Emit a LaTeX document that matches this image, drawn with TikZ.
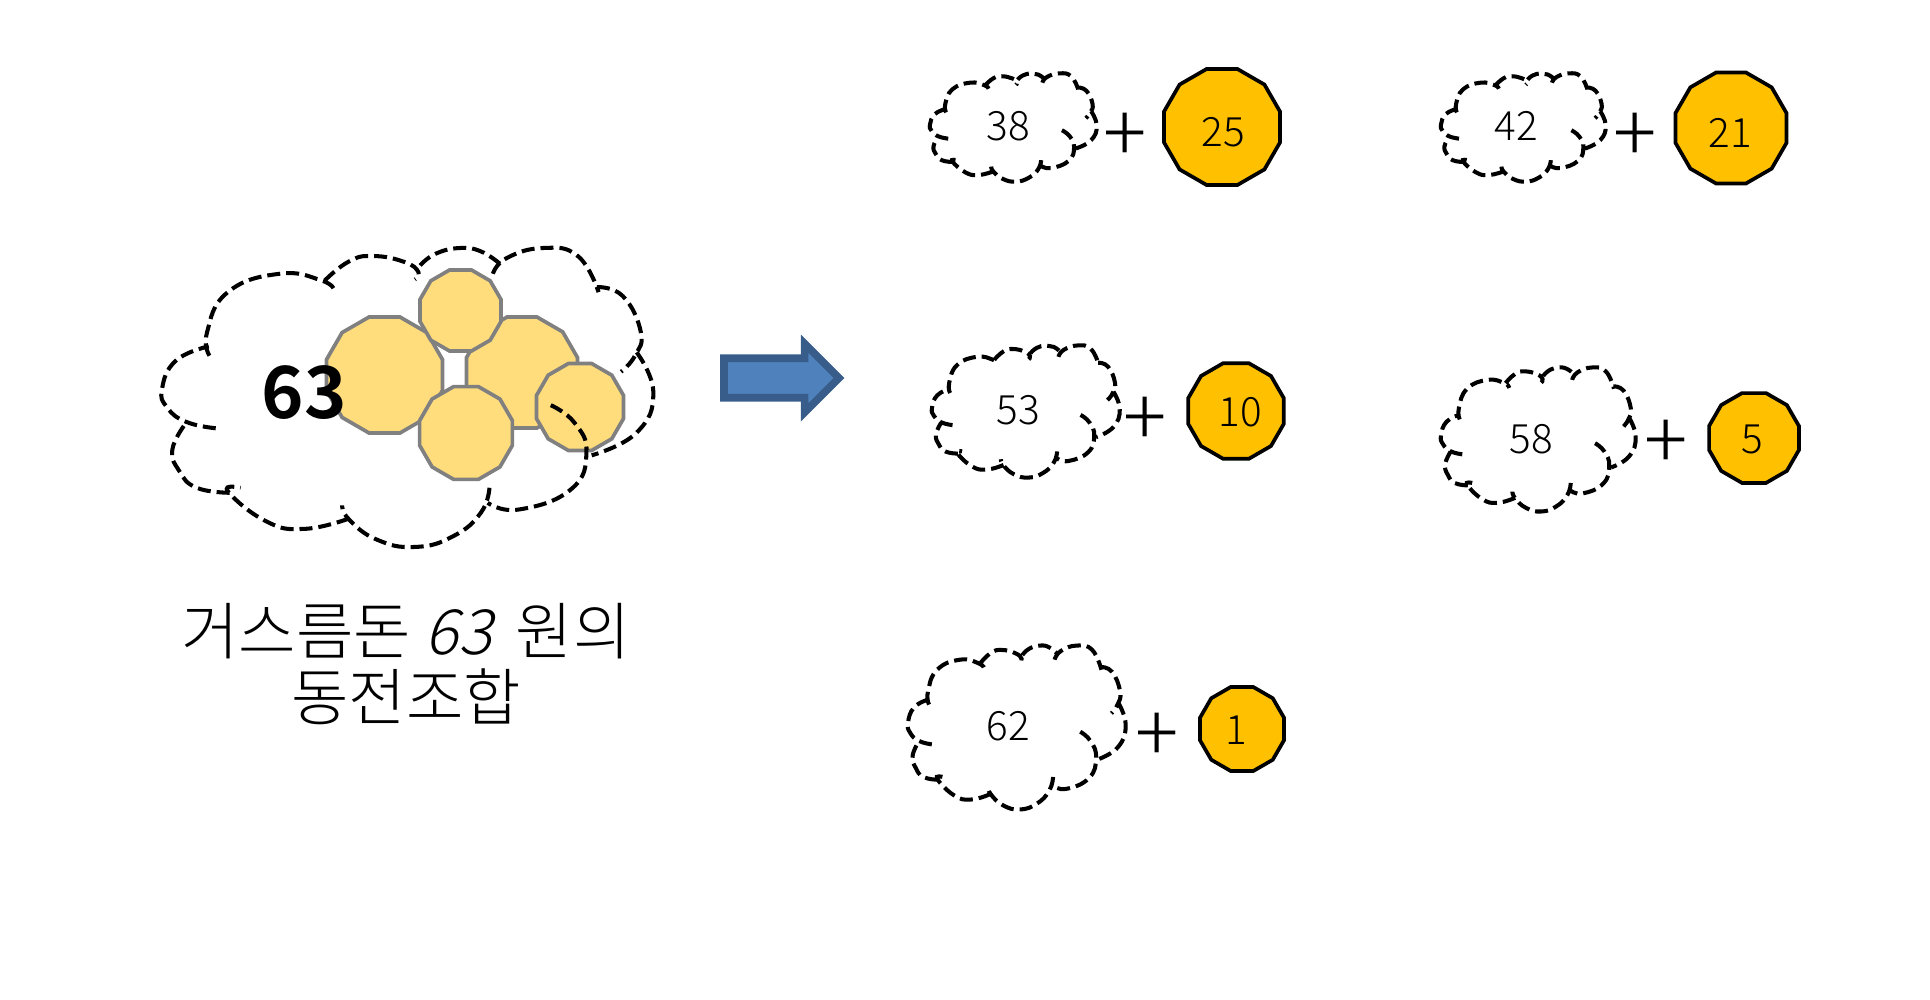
\documentclass[tikz,border=0pt]{standalone}
\usepackage{fontspec}
\usepackage{xcolor}
\usetikzlibrary{shapes.geometric, shapes.arrows}
\IfFontExistsTF{Noto Sans CJK KR Light}
  {\newfontfamily\krlight[AutoFakeSlant=0.25]{Noto Sans CJK KR Light}}
  {\newfontfamily\krlight[AutoFakeSlant=0.25]{Noto Sans CJK KR}}
\newfontfamily\krbold{Noto Sans CJK KR Bold}
\definecolor{coinorange}{HTML}{FFC000}
\definecolor{coinpale}{HTML}{FFDC7C}
\definecolor{coingrey}{HTML}{808080}
\definecolor{arrowfill}{HTML}{4F81BD}
\definecolor{arrowedge}{HTML}{385D8A}

\tikzset{
  cloudline/.style={black, line width=2.3pt, dash pattern=on 7.4pt off 3.4pt},
  cloudlobes/.pic={
    \draw[cloudline, shift={(-70,-85)}, smooth, tension=.8]
      plot coordinates {(225,627) (140,608) (85,565) (70,510) (110,425) (205,382)}
      plot coordinates {(207,410) (200,340) (260,220) (410,165) (530,185) (568,215)}
      plot coordinates {(540,185) (610,128) (680,112) (770,130) (810,160) (800,182)}
      plot coordinates {(815,140) (860,105) (930,88) (990,98) (1045,135)}
      plot coordinates {(1025,165) (1065,118) (1170,88) (1270,112) (1330,220)}
      plot coordinates {(1325,205) (1400,232) (1452,340) (1435,410) (1395,458)}
      plot coordinates {(1440,400) (1488,520) (1440,640) (1310,708)}
      plot coordinates {(1192,558) (1260,610) (1295,700) (1250,810) (1100,870) (1010,850)}
      plot coordinates {(1015,805) (990,880) (910,950) (800,982) (690,960) (610,900) (590,858)}
      plot coordinates {(610,897) (480,928) (370,905) (260,815) (297,805)}
      plot coordinates {(265,820) (170,805) (120,755) (100,690) (140,610)};
  },
  coin/.style={regular polygon, regular polygon sides=12, draw=black, line width=2.1pt,
    fill=coinorange, inner sep=0pt, outer sep=0pt},
  palecoin/.style={coin, draw=coingrey, fill=coinpale},
  numtext/.style={font=\krlight\fontsize{23}{27}\selectfont},
  plustext/.style={font=\krlight\fontsize{46}{50}\selectfont},
  captiontext/.style={font=\krlight\fontsize{35.5}{38}\selectfont, align=center}
}

\begin{document}
\begin{tikzpicture}[x=0.02cm, y=-0.02cm]
\useasboundingbox (0,0) rectangle (1930,1000);

\node[palecoin, minimum size=2.40cm] (big1) at (384.5,375) {};
\node[palecoin, minimum size=2.30cm] (big2) at (522,372.5) {};
\node[palecoin, minimum size=1.68cm] (big3) at (460.5,310.5) {};
\node[palecoin, minimum size=1.92cm] (big4) at (466,433) {};
\node[palecoin, minimum size=1.80cm] (big5) at (580,407) {};

\pic[xscale=.3465, yscale=.3344] (cloud63) at (162,247) {cloudlobes};
\node[font=\krbold\fontsize{41}{49}\selectfont] (total) at (304,393) {63};
\node[captiontext] (caption) at (406,664) {거스름돈 \textit{63}\, 원의\\동전조합};

\node[single arrow, anchor=tail, draw=arrowedge, fill=arrowfill, line width=4.3pt, outer sep=0pt, inner xsep=0pt, inner ysep=.32cm,
  minimum height=2.3cm, single arrow head extend=.29cm] (change) at (724,378) {};

\pic[xscale=.1176, yscale=.1211] (cloud38) at (930,73) {cloudlobes};
\node[numtext] (n38) at (1008,126) {38};
\node[plustext] (p38) at (1125,138) {+};
\node[coin, minimum size=2.40cm] (c25) at (1222,127) {};
\node[numtext] (t25) at (1223,132) {25};

\pic[xscale=.1162, yscale=.1211] (cloud42) at (1441,73) {cloudlobes};
\node[numtext] (n42) at (1516,126) {42};
\node[plustext] (p42) at (1635,138) {+};
\node[coin, minimum size=2.30cm] (c21) at (1731,128) {};
\node[numtext] (t21) at (1730,133) {21};

\pic[xscale=.1324, yscale=.1478] (cloud53) at (932,345) {cloudlobes};
\node[numtext] (n53) at (1018,410) {53};
\node[plustext] (p53) at (1145,422) {+};
\node[coin, minimum size=1.98cm] (c10) at (1236,411) {};
\node[numtext] (t10) at (1240,412) {10};

\pic[xscale=.1373, yscale=.1611] (cloud58) at (1441,367) {cloudlobes};
\node[numtext] (n58) at (1531,439) {58};
\node[plustext] (p58) at (1666,445) {+};
\node[coin, minimum size=1.86cm] (c5) at (1754,438) {};
\node[numtext] (t5) at (1752,439) {5};

\pic[xscale=.1535, yscale=.1833] (cloud62) at (908,645) {cloudlobes};
\node[numtext] (n62) at (1008,726) {62};
\node[plustext] (p62) at (1157,738) {+};
\node[coin, minimum size=1.74cm] (c1) at (1242,729) {};
\node[numtext] (t1) at (1236,730) {1};

\end{tikzpicture}
\end{document}
